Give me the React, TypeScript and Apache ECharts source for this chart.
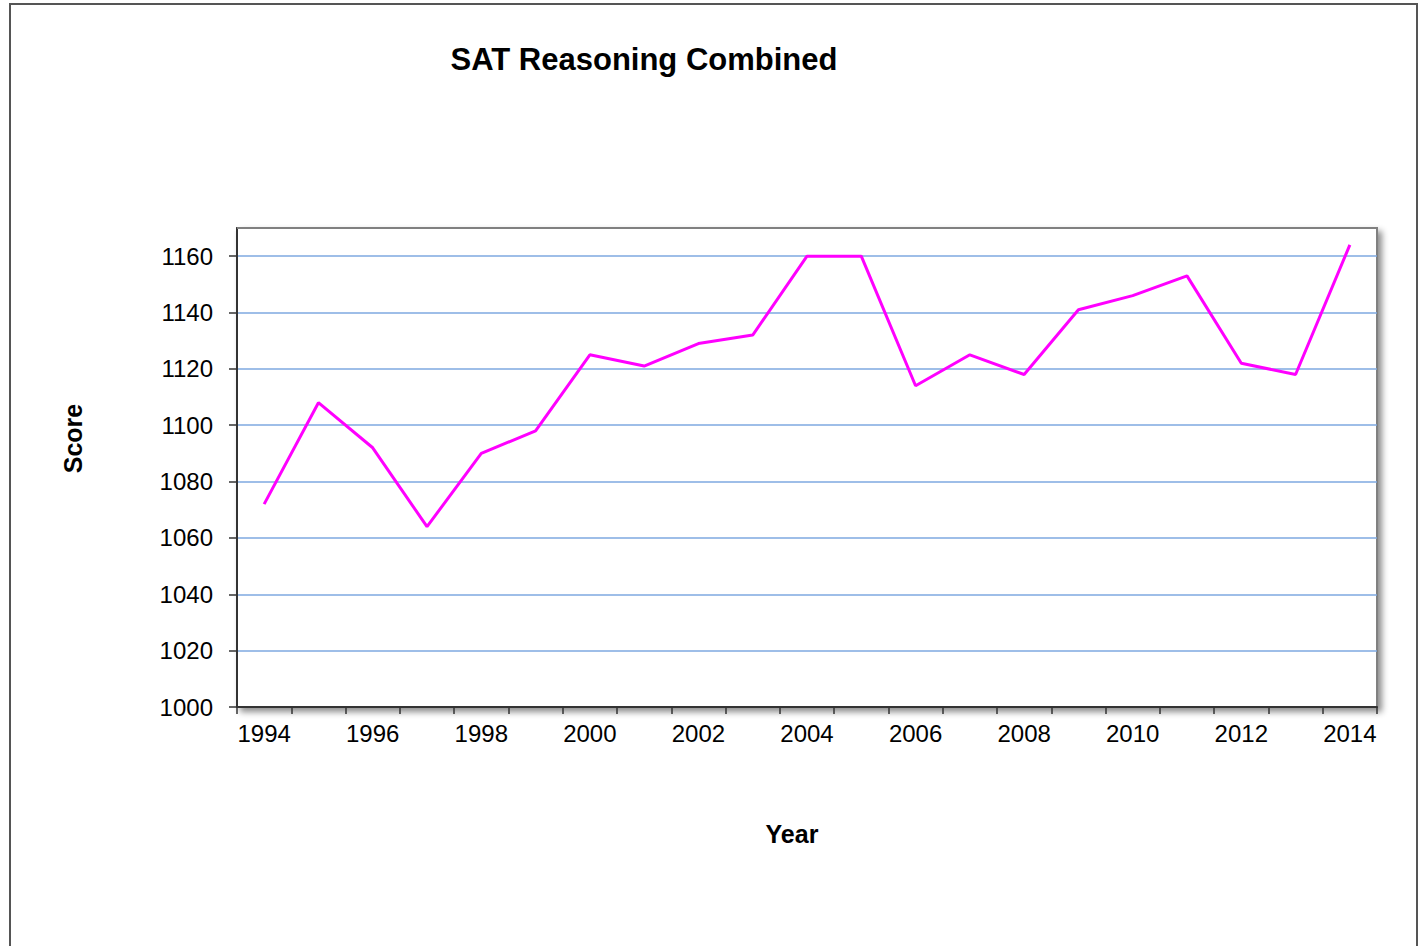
import React, { useEffect, useRef } from "react";
import * as echarts from "echarts";

const years = [
  "1994", "1995", "1996", "1997", "1998", "1999", "2000", "2001", "2002", "2003", "2004",
  "2005", "2006", "2007", "2008", "2009", "2010", "2011", "2012", "2013", "2014",
];
const scores = [
  1072, 1108, 1092, 1064, 1090, 1098, 1125, 1121, 1129, 1132, 1160,
  1160, 1114, 1125, 1118, 1141, 1146, 1153, 1122, 1118, 1164,
];
const titleText = "SAT Reasoning Combined";
const xName = "Year";
const yName = "Score";

const FONT = "'Liberation Sans', Arial, sans-serif";

export default function App() {
  const ref = useRef<HTMLDivElement>(null);
  useEffect(() => {
    if (!ref.current) return;
    const chart = echarts.init(ref.current, undefined, { renderer: "svg" });
    const gl = 237, gt = 228, gw = 1140, gh = 479;
    chart.setOption({
      animation: false,
      backgroundColor: "#ffffff",
      title: {
        text: titleText,
        left: 644,
        top: 44,
        padding: 0,
        textAlign: "center",
        textStyle: { fontFamily: FONT, fontSize: 31, fontWeight: "bold", color: "#000" },
      },
      grid: {
        left: gl,
        top: gt,
        width: gw,
        height: gh,
        show: true,
        backgroundColor: "#ffffff",
        borderColor: "#808080",
        borderWidth: 2,
        shadowColor: "rgba(0,0,0,0.45)",
        shadowBlur: 6,
        shadowOffsetX: 4,
        shadowOffsetY: 4,
        containLabel: false,
      },
      xAxis: {
        type: "category",
        data: years,
        boundaryGap: true,
        name: xName,
        nameLocation: "middle",
        nameGap: 114,
        nameTextStyle: {
          fontFamily: FONT,
          fontSize: 25,
          fontWeight: "bold",
          color: "#000",
          padding: [0, 30, 0, 0],
        },
        axisLine: { show: true, lineStyle: { color: "#333", width: 2 } },
        axisTick: { show: true, interval: 0, length: 7, lineStyle: { color: "#333", width: 1.5 } },
        axisLabel: {
          interval: 1,
          margin: 14,
          fontFamily: FONT,
          fontSize: 24,
          color: "#000",
        },
        splitLine: { show: false },
      },
      yAxis: {
        type: "value",
        min: 1000,
        max: 1170,
        interval: 20,
        name: yName,
        nameLocation: "middle",
        nameGap: 152,
        nameRotate: 90,
        nameTextStyle: {
          fontFamily: FONT,
          fontSize: 25,
          fontWeight: "bold",
          color: "#000",
          padding: [0, 0, 0, 58],
        },
        axisLine: { show: true, lineStyle: { color: "#333", width: 2 } },
        axisTick: { show: true, length: 8, lineStyle: { color: "#333", width: 1.5 } },
        axisLabel: {
          showMaxLabel: false,
          margin: 24,
          fontFamily: FONT,
          fontSize: 24,
          color: "#000",
          formatter: (v: number) => String(v),
        },
        splitLine: { show: true, lineStyle: { color: "#7ea9e0", width: 1.5 } },
      },
      graphic: [
        {
          type: "rect",
          shape: { x: 10, y: 4, width: 1407, height: 980 },
          style: { fill: "none", stroke: "#555555", lineWidth: 2 },
          silent: true,
          z: 0,
        },
        {
          type: "line",
          shape: { x1: gl, y1: gt, x2: gl + gw + 1, y2: gt },
          style: { stroke: "#808080", lineWidth: 2 },
          silent: true,
          z: 100,
        },
        {
          type: "rect",
          shape: { x: gl - 10, y: gt - 3, width: 9, height: 6 },
          style: { fill: "#ffffff", stroke: "none" },
          silent: true,
          z: 100,
        },
      ],
      series: [
        {
          type: "line",
          data: scores,
          symbol: "none",
          lineStyle: { color: "#ff00ff", width: 3 },
          itemStyle: { color: "#ff00ff" },
          z: 5,
        },
      ],
    });
    return () => chart.dispose();
  }, []);
  return (
    <div style={{ position: "fixed", left: 0, top: 0, width: 1422, height: 946, overflow: "hidden", background: "#fff" }}>
      <div ref={ref} style={{ width: 1422, height: 946 }} />
    </div>
  );
}
